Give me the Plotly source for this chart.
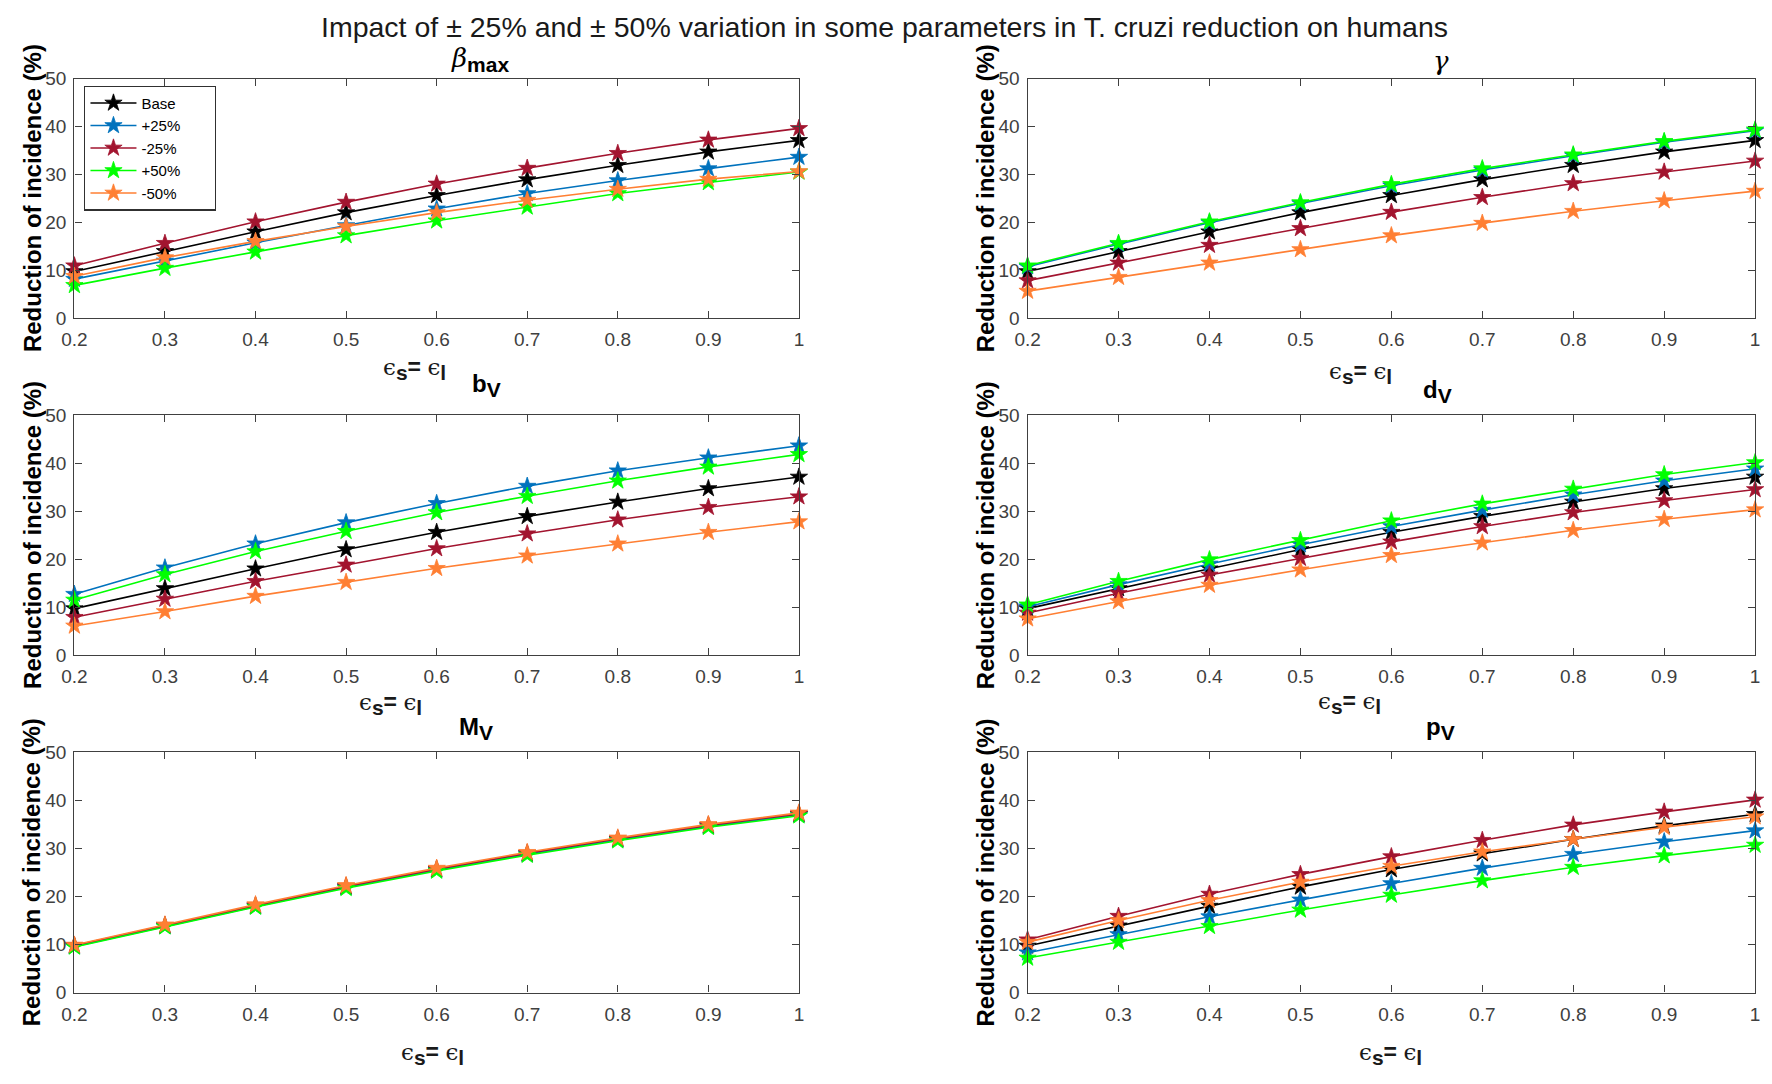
import plotly.graph_objects as go
from plotly.subplots import make_subplots

# ---------------- data ----------------
eps = [0.2, 0.3, 0.4, 0.5, 0.6, 0.7, 0.8, 0.9, 1.0]
x_ticks = [0.2, 0.3, 0.4, 0.5, 0.6, 0.7, 0.8, 0.9, 1.0]
x_tick_labels = ["0.2", "0.3", "0.4", "0.5", "0.6", "0.7", "0.8", "0.9", "1"]
y_ticks = [0, 10, 20, 30, 40, 50]

series_names = ["Base", "+25%", "-25%", "+50%", "-50%"]

base = [9.7, 13.9, 18.0, 22.0, 25.6, 28.9, 31.9, 34.7, 37.1]

beta_p25 = [8.1, 11.9, 15.7, 19.3, 22.8, 26.0, 28.7, 31.2, 33.6]
beta_m25 = [10.9, 15.6, 20.1, 24.2, 28.0, 31.3, 34.4, 37.2, 39.6]
beta_p50 = [6.8, 10.4, 13.8, 17.2, 20.3, 23.2, 26.0, 28.3, 30.5]
beta_m50 = [8.7, 12.6, 16.0, 19.1, 22.0, 24.6, 26.9, 29.0, 30.6]

gamma_p25 = [10.7, 15.4, 19.9, 23.9, 27.6, 30.9, 33.9, 36.7, 39.1]
gamma_m25 = [7.8, 11.5, 15.2, 18.7, 22.1, 25.2, 28.1, 30.5, 32.8]
gamma_p50 = [10.9, 15.6, 20.1, 24.1, 27.9, 31.2, 34.1, 36.9, 39.3]
gamma_m50 = [5.6, 8.5, 11.5, 14.3, 17.2, 19.8, 22.3, 24.5, 26.5]

bv_p25 = [12.7, 18.2, 23.2, 27.6, 31.6, 35.2, 38.4, 41.1, 43.6]
bv_m25 = [7.9, 11.7, 15.4, 18.8, 22.2, 25.3, 28.2, 30.8, 33.0]
bv_p50 = [11.5, 16.8, 21.6, 25.8, 29.7, 33.1, 36.3, 39.2, 41.8]
bv_m50 = [6.1, 9.1, 12.3, 15.2, 18.1, 20.7, 23.2, 25.6, 27.8]

dv_p25 = [10.1, 14.7, 19.0, 23.0, 26.8, 30.2, 33.4, 36.3, 38.8]
dv_m25 = [8.8, 12.9, 16.7, 20.2, 23.6, 26.8, 29.7, 32.2, 34.5]
dv_p50 = [10.5, 15.4, 19.9, 23.9, 28.0, 31.5, 34.6, 37.6, 40.1]
dv_m50 = [7.6, 11.2, 14.6, 17.8, 20.8, 23.4, 26.0, 28.3, 30.3]

mv_p25 = [9.6, 13.8, 17.9, 21.9, 25.5, 28.8, 31.8, 34.6, 37.0]
mv_m25 = [9.8, 14.0, 18.1, 22.1, 25.7, 29.0, 32.0, 34.8, 37.2]
mv_p50 = [9.5, 13.7, 17.8, 21.7, 25.3, 28.6, 31.6, 34.4, 36.8]
mv_m50 = [9.9, 14.1, 18.3, 22.3, 25.9, 29.2, 32.2, 35.0, 37.4]

pv_p25 = [8.3, 12.1, 15.8, 19.3, 22.7, 25.9, 28.8, 31.4, 33.7]
pv_m25 = [11.0, 15.9, 20.5, 24.6, 28.3, 31.7, 34.9, 37.6, 40.1]
pv_p50 = [7.2, 10.5, 13.8, 17.2, 20.3, 23.3, 26.1, 28.5, 30.7]
pv_m50 = [10.5, 15.0, 19.2, 23.0, 26.3, 29.3, 31.9, 34.4, 36.6]

panels = [
    [base, beta_p25, beta_m25, beta_p50, beta_m50],
    [base, gamma_p25, gamma_m25, gamma_p50, gamma_m50],
    [base, bv_p25, bv_m25, bv_p50, bv_m50],
    [base, dv_p25, dv_m25, dv_p50, dv_m50],
    [base, mv_p25, mv_m25, mv_p50, mv_m50],
    [base, pv_p25, pv_m25, pv_p50, pv_m50],
]

colors = ["#000000", "#0072BD", "#A2142F", "#00FF00", "#FF7F33"]

W, H = 1772, 1084
FONT = "Liberation Sans, Arial, sans-serif"
PAD = "\u00a0" * 7  # right padding inside the legend box

# layout geometry in pixels
col_x = [(62, 794), (1025, 1760)]
row_y = [(70, 314), (413, 658), (757, 1002)]

fig = make_subplots(rows=3, cols=2)

for i, pdata in enumerate(panels):
    r, c = i // 2 + 1, i % 2 + 1
    for j, (name, vals) in enumerate(zip(series_names, pdata)):
        fig.add_trace(go.Scatter(
            x=eps, y=vals, mode="lines+markers", name=name + PAD,
            line=dict(color=colors[j], width=1.6),
            marker=dict(symbol="star", size=13, color=colors[j],
                        line=dict(color=colors[j], width=0.8)),
            showlegend=(i == 0), legendgroup=name, cliponaxis=False,
        ), row=r, col=c)

axis_common = dict(
    showline=True, linecolor="#404040", linewidth=1.3, mirror="ticks",
    ticks="inside", ticklen=7, tickwidth=1.2, tickcolor="#404040",
    showgrid=False, zeroline=False,
    tickfont=dict(family=FONT, size=19, color="#404040"),
)

for i in range(6):
    r, c = i // 2, i % 2
    x0, x1 = col_x[c]
    y0, y1 = row_y[r]
    xa = "xaxis" if i == 0 else f"xaxis{i+1}"
    ya = "yaxis" if i == 0 else f"yaxis{i+1}"
    fig.layout[xa].update(domain=[x0 / W, x1 / W], range=[0.2, 1.0],
                          tickvals=x_ticks, ticktext=x_tick_labels,
                          ticklabelstandoff=4, **axis_common)
    fig.layout[ya].update(domain=[1 - y1 / H, 1 - y0 / H], range=[0, 50],
                          tickvals=y_ticks, ticklabelstandoff=3, **axis_common)

ann = []

def add_text(text, px, py, size, angle=0, color="#000000", family=FONT):
    ann.append(dict(text=text, x=px / W, y=1 - py / H, xref="paper", yref="paper",
                    xanchor="center", yanchor="middle", showarrow=False,
                    textangle=angle, font=dict(family=family, size=size, color=color)))

# main title
add_text("Impact of \u00b1 25% and \u00b1 50% variation in some parameters in T. cruzi reduction on humans",
         880, 17, 28.5, color="#1a1a1a")

# y-axis titles
ylab = "<b>Reduction of incidence (%)</b>"
for r in range(3):
    yc = (row_y[r][0] + row_y[r][1]) / 2
    add_text(ylab, 19, yc, 24, angle=-90)
    add_text(ylab, 982, yc, 24, angle=-90)

# x-axis labels
EPS = "<span style='font-family:DejaVu Serif'>\u03f5</span>"
xlab = (EPS + "<sub><span style='font-size:21px'><b>s</b></span></sub>"
        "<b>=</b> " + EPS + "<sub><span style='font-size:21px'><b>l</b></span></sub>")
for (px, py) in [(406, 366), (1361, 370), (381, 708), (1350, 707), (424, 1065), (1392, 1065)]:
    add_text(xlab, px, py, 23, color="#1a1a1a")

# panel titles
def sub_title(main, sub):
    return f"<b>{main}</b><sub><span style='font-size:21px'><b>{sub}</b></span></sub>"

add_text("<span style='font-family:DejaVu Serif'><i>\u03b2</i></span>"
         "<sub><span style='font-size:21px'><b>max</b></span></sub>", 472, 50, 26)
add_text("<span style='font-family:DejaVu Serif'><i>\u03b3</i></span>", 1443, 52, 26)
add_text(sub_title("b", "V"), 478, 383, 24)
add_text(sub_title("d", "V"), 1439, 389, 24)
add_text(sub_title("M", "V"), 468, 733, 24)
add_text(sub_title("p", "V"), 1442, 733, 24)

fig.update_layout(
    width=W, height=H,
    margin=dict(l=0, r=0, t=0, b=0),
    paper_bgcolor="white", plot_bgcolor="white",
    annotations=ann,
    legend=dict(x=72 / W, y=1 - 77 / H, xanchor="left", yanchor="top",
                bgcolor="white", bordercolor="#303030", borderwidth=1.2,
                font=dict(family=FONT, size=15, color="#000000"),
                itemwidth=46, tracegroupgap=0),
    showlegend=True,
)

fig.write_html("out.html",
               config={"displayModeBar": False},
               post_script="document.body.style.margin='0px';"
                           "document.body.style.overflow='hidden';")
